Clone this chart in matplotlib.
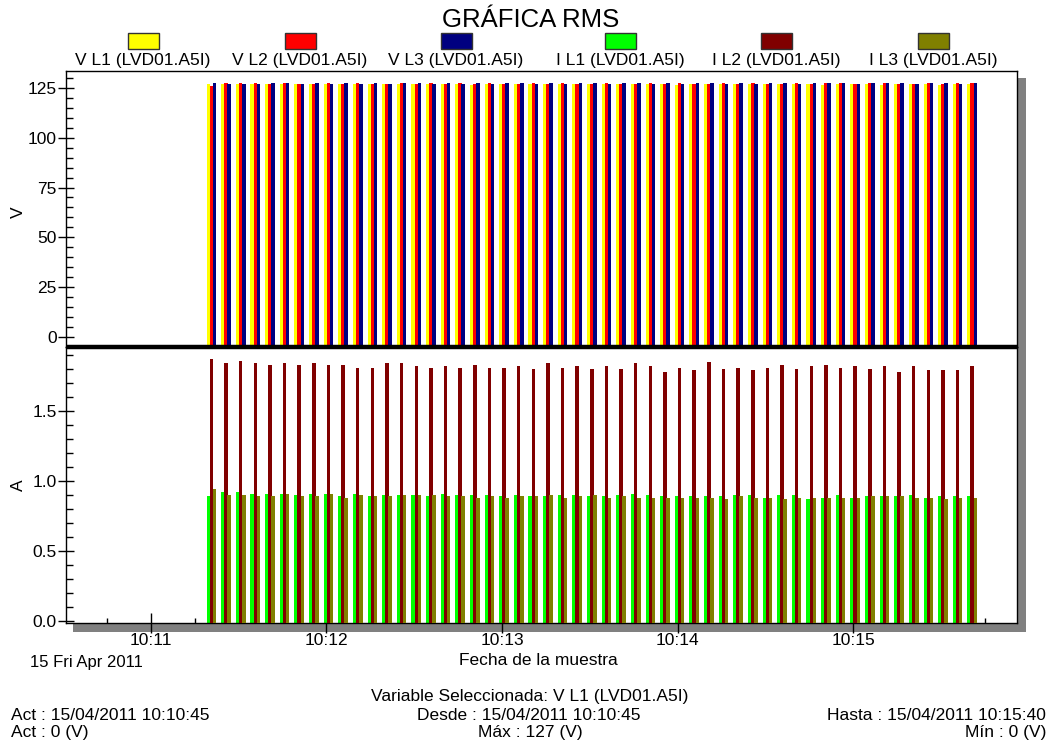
import matplotlib
matplotlib.use('Agg')
import matplotlib.pyplot as plt
import matplotlib.dates as mdates
from matplotlib.patches import Rectangle
from matplotlib.lines import Line2D
from matplotlib.ticker import MultipleLocator, FormatStrFormatter
import pandas as pd

plt.rcParams['font.family'] = ['Liberation Sans', 'DejaVu Sans']

# ---------------- data ----------------
START = '2011-04-15 10:11:20'
PERIOD = '5s'
N_SAMPLES = 53
X_START = '2011-04-15 10:10:31'
X_END = '2011-04-15 10:15:56'

series_V = ['V L1 (LVD01.A5I)', 'V L2 (LVD01.A5I)', 'V L3 (LVD01.A5I)']
series_I = ['I L1 (LVD01.A5I)', 'I L2 (LVD01.A5I)', 'I L3 (LVD01.A5I)']
colors_V = ['#FFFF00', '#FF0000', '#000080']
colors_I = ['#00FF00', '#800000', '#808000']

V_L1 = [127.2, 127.2, 126.8, 127.2, 127.2, 127.2, 126.8, 127.0, 127.2, 127.0, 126.8, 127.2, 127.0,
        127.2, 127.0, 126.8, 127.2, 127.0, 126.6, 127.2, 127.0, 127.2, 127.0, 126.8, 127.0, 127.2,
        127.0, 127.2, 126.8, 127.0, 127.2, 127.0, 126.6, 127.0, 127.2, 127.0, 126.8, 127.2, 127.0,
        127.0, 127.2, 126.8, 126.6, 127.2, 127.0, 127.2, 126.6, 127.2, 127.0, 126.8, 126.6, 127.2, 126.8]
V_L2 = [126.2, 127.5, 127.5, 127.5, 127.2, 127.5, 127.2, 127.2, 127.5, 127.2, 127.5, 127.2, 127.2,
        127.5, 127.2, 127.5, 127.2, 127.5, 127.2, 127.5, 127.2, 127.2, 127.5, 127.2, 127.5, 127.2,
        127.2, 127.5, 127.2, 127.2, 127.5, 127.2, 127.5, 127.2, 127.2, 127.5, 127.2, 127.5, 127.2,
        127.2, 127.5, 127.0, 127.5, 127.5, 127.2, 127.5, 127.5, 127.2, 127.0, 127.5, 127.2, 127.5, 127.5]
V_L3 = [127.5, 126.8, 126.8, 126.8, 127.5, 127.5, 127.2, 127.5, 127.2, 127.5, 127.2, 127.5, 127.2,
        127.5, 127.5, 127.2, 127.5, 127.2, 127.5, 127.2, 127.5, 127.5, 127.2, 127.5, 127.2, 127.5,
        127.5, 127.2, 127.5, 127.5, 127.2, 127.5, 127.2, 127.5, 127.5, 127.2, 127.5, 127.2, 127.5,
        127.5, 127.2, 127.5, 127.5, 127.5, 127.2, 127.5, 127.5, 127.5, 126.8, 127.5, 127.5, 127.2, 127.5]

I_L1 = [0.89, 0.92, 0.92, 0.91, 0.91, 0.91, 0.90, 0.91, 0.91, 0.89, 0.91, 0.89, 0.90,
        0.90, 0.90, 0.89, 0.91, 0.90, 0.90, 0.90, 0.89, 0.90, 0.89, 0.89, 0.90, 0.90,
        0.89, 0.89, 0.90, 0.91, 0.90, 0.89, 0.89, 0.89, 0.89, 0.89, 0.90, 0.90, 0.88,
        0.90, 0.90, 0.87, 0.88, 0.90, 0.88, 0.89, 0.89, 0.89, 0.90, 0.88, 0.89, 0.89, 0.89]
I_L2 = [1.87, 1.84, 1.86, 1.84, 1.83, 1.84, 1.83, 1.84, 1.83, 1.83, 1.81, 1.81, 1.84,
        1.84, 1.82, 1.81, 1.82, 1.81, 1.83, 1.81, 1.81, 1.82, 1.80, 1.84, 1.81, 1.82,
        1.80, 1.82, 1.80, 1.84, 1.82, 1.78, 1.81, 1.79, 1.85, 1.80, 1.81, 1.79, 1.81,
        1.83, 1.80, 1.82, 1.83, 1.81, 1.82, 1.80, 1.82, 1.78, 1.82, 1.79, 1.79, 1.79, 1.82]
I_L3 = [0.94, 0.90, 0.90, 0.89, 0.89, 0.91, 0.89, 0.89, 0.91, 0.88, 0.90, 0.89, 0.89,
        0.90, 0.90, 0.90, 0.89, 0.89, 0.88, 0.89, 0.88, 0.89, 0.89, 0.90, 0.88, 0.89,
        0.90, 0.88, 0.89, 0.88, 0.88, 0.88, 0.88, 0.88, 0.88, 0.87, 0.89, 0.88, 0.88,
        0.87, 0.88, 0.88, 0.88, 0.88, 0.88, 0.89, 0.89, 0.89, 0.88, 0.88, 0.87, 0.88, 0.88]

title = 'GRÁFICA RMS'
ylabel_V = 'V'
ylabel_I = 'A'
date_label = '15 Fri Apr 2011'
xlabel = 'Fecha de la muestra'
footer_center = ['Variable Seleccionada: V L1 (LVD01.A5I)',
                 'Desde : 15/04/2011 10:10:45',
                 'Máx : 127 (V)']
footer_left = ['Act : 15/04/2011 10:10:45', 'Act : 0 (V)']
footer_right = ['Hasta : 15/04/2011 10:15:40', 'Mín : 0 (V)']

# ---------------- layout helpers ----------------
W, H = 1059, 743
def fx(px):
    return px / W
def fy(py):
    return 1 - py / H

fig = plt.figure(figsize=(W / 100, H / 100), dpi=100)
fig.patch.set_facecolor('white')

L, R, T, MID, B = 66, 1017, 71, 346.5, 623
ax1 = fig.add_axes([fx(L), fy(MID), (R - L) / W, (MID - T) / H])
ax2 = fig.add_axes([fx(L), fy(B), (R - L) / W, (B - MID) / H], sharex=ax1)

# drop shadow
shadow = '#808080'
fig.add_artist(Rectangle((fx(R), fy(632)), (1026 - R) / W, (632 - 78) / H,
                         transform=fig.transFigure, color=shadow, zorder=-1, lw=0))
fig.add_artist(Rectangle((fx(73), fy(632)), (1026 - 73) / W, (632 - B) / H,
                         transform=fig.transFigure, color=shadow, zorder=-1, lw=0))

times = mdates.date2num(pd.date_range(START, periods=N_SAMPLES, freq=PERIOD).to_pydatetime())
sec = 1.0 / 86400.0
bar_w = 1.2 * sec
step = 1.05 * sec
center_off = 0.7 * sec

V_lo, V_hi = -4.8, 133.5
I_lo, I_hi = -0.014, 1.961

for i, (vals, c) in enumerate(zip([V_L1, V_L2, V_L3], colors_V)):
    x = [t + center_off + (i - 1) * step for t in times]
    ax1.bar(x, [v - V_lo for v in vals], bottom=V_lo, width=bar_w, color=c,
            linewidth=0, align='center', zorder=2 + i)
for i, (vals, c) in enumerate(zip([I_L1, I_L2, I_L3], colors_I)):
    x = [t + center_off + (i - 1) * step for t in times]
    ax2.bar(x, [v - I_lo for v in vals], bottom=I_lo, width=bar_w, color=c,
            linewidth=0, align='center', zorder=2 + i)

ax1.set_ylim(V_lo, V_hi)
ax2.set_ylim(I_lo, I_hi)
ax2.set_xlim(mdates.date2num(pd.Timestamp(X_START).to_pydatetime()),
             mdates.date2num(pd.Timestamp(X_END).to_pydatetime()))

for ax in (ax1, ax2):
    for s in ax.spines.values():
        s.set_color('black')
        s.set_linewidth(1.0)
    ax.tick_params(axis='y', which='major', direction='inout', length=12, width=1,
                   pad=0.5, labelsize=12.5, right=False, colors='black')
    ax.tick_params(axis='y', which='minor', direction='in', length=5, width=1, right=False)

ax1.yaxis.set_major_locator(MultipleLocator(25))
ax1.yaxis.set_minor_locator(MultipleLocator(5))
ax1.tick_params(axis='x', which='both', bottom=False, top=False, labelbottom=False)

ax2.yaxis.set_major_locator(MultipleLocator(0.5))
ax2.yaxis.set_minor_locator(MultipleLocator(0.1))
ax2.yaxis.set_major_formatter(FormatStrFormatter('%.1f'))
ax2.xaxis.set_major_locator(mdates.MinuteLocator())
ax2.xaxis.set_major_formatter(mdates.DateFormatter('%H:%M'))
ax2.xaxis.set_minor_locator(mdates.SecondLocator(bysecond=[15, 30, 45]))
ax2.tick_params(axis='x', which='major', direction='inout', length=14, width=1,
                pad=0.5, labelsize=12.5, top=False)
ax2.tick_params(axis='x', which='minor', direction='in', length=3.5, width=1, top=False)

# thick separator between panels
fig.add_artist(Line2D([fx(L), fx(R)], [fy(MID), fy(MID)], color='black', lw=3.2,
                      solid_capstyle='butt', transform=fig.transFigure, zorder=10))

# axis labels
fig.text(fx(18), fy(212), ylabel_V, rotation=90, ha='center', va='center', fontsize=12.5)
fig.text(fx(18), fy(485), ylabel_I, rotation=90, ha='center', va='center', fontsize=12.5)

# title
fig.text(fx(531), fy(27), title, ha='center', va='baseline', fontsize=18.5)

# legend
leg_x = [143, 300, 456, 620, 776, 933]
for xc, lab, c in zip(leg_x, series_V + series_I, colors_V + colors_I):
    fig.add_artist(Rectangle((fx(xc - 15.5), fy(49)), 31 / W, 16 / H, transform=fig.transFigure,
                             facecolor=c, edgecolor='#333333', lw=1.0))
    fig.text(fx(xc), fy(64.5), lab, ha='center', va='baseline', fontsize=12.5)

# bottom texts
fig.text(fx(30), fy(666.5), date_label, ha='left', va='baseline', fontsize=12)
fig.text(fx(538), fy(665), xlabel, ha='center', va='baseline', fontsize=12.5)

fs = 12.5
fig.text(fx(530), fy(701.5), footer_center[0], ha='center', va='baseline', fontsize=fs)
fig.text(fx(529), fy(719.5), footer_center[1], ha='center', va='baseline', fontsize=fs)
fig.text(fx(530), fy(737.5), footer_center[2], ha='center', va='baseline', fontsize=fs)
fig.text(fx(11), fy(719.5), footer_left[0], ha='left', va='baseline', fontsize=fs)
fig.text(fx(11), fy(737.5), footer_left[1], ha='left', va='baseline', fontsize=fs)
fig.text(fx(1046), fy(719.5), footer_right[0], ha='right', va='baseline', fontsize=fs)
fig.text(fx(1046), fy(737.5), footer_right[1], ha='right', va='baseline', fontsize=fs)

fig.savefig('out.png', dpi=100, facecolor='white')
